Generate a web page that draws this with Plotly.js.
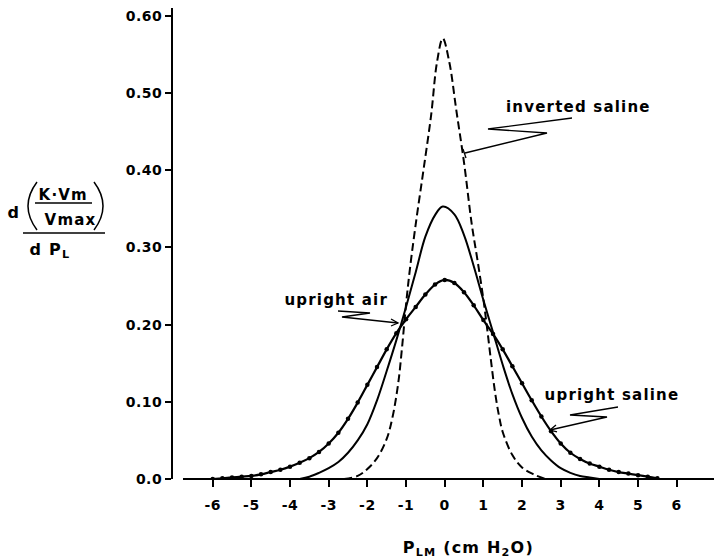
<!DOCTYPE html>
<html><head><meta charset="utf-8">
<script src="https://cdn.plot.ly/plotly-3.0.1.min.js"></script>
<style>html,body{margin:0;padding:0;background:#fff}</style>
</head><body><div id="chart" style="width:714px;height:559px"></div>
<script>
// ---- data ----
const xTickVals = [-6,-5,-4,-3,-2,-1,0,1,2,3,4,5,6];
const xTickText = ['-6','-5','-4','-3','-2','-1','0','1','2','3','4','5','6'];
const yTickVals = [0,0.1,0.2,0.3,0.4,0.5,0.6];
const yTickText = ['0.0','0.10','0.20','0.30','0.40','0.50','0.60'];

// upright saline (dotted line)
const salineX = [-6.0,-5.75,-5.5,-5.25,-5.0,-4.75,-4.5,-4.25,-4.0,-3.75,-3.5,-3.25,-3.0,-2.75,-2.5,-2.25,-2.0,-1.75,-1.5,-1.25,-1.0,-0.75,-0.5,-0.25,0.0,0.25,0.5,0.75,1.0,1.25,1.5,1.75,2.0,2.25,2.5,2.75,3.0,3.25,3.5,3.75,4.0,4.25,4.5,4.75,5.0,5.25,5.5];
const salineY = [0.000,0.001,0.002,0.003,0.004,0.006,0.009,0.012,0.016,0.021,0.027,0.035,0.046,0.060,0.078,0.099,0.122,0.145,0.168,0.189,0.207,0.223,0.239,0.252,0.258,0.254,0.242,0.225,0.206,0.188,0.168,0.146,0.124,0.102,0.081,0.062,0.046,0.034,0.026,0.020,0.016,0.012,0.009,0.007,0.005,0.003,0.001];

// upright air (solid line)
const airX = [-3.75,-3.5,-3.25,-3.0,-2.75,-2.5,-2.25,-2.0,-1.75,-1.5,-1.25,-1.0,-0.75,-0.5,-0.25,-0.05,0.25,0.5,0.75,1.0,1.25,1.5,1.75,2.0,2.25,2.5,2.75,3.0,3.25,3.5,3.75,4.0];
const airY = [0.000,0.003,0.008,0.014,0.022,0.034,0.050,0.071,0.102,0.140,0.180,0.223,0.268,0.314,0.342,0.353,0.343,0.316,0.276,0.232,0.190,0.148,0.110,0.079,0.055,0.037,0.024,0.014,0.008,0.004,0.002,0.000];

// inverted saline (dashed line)
const invX = [-2.6,-2.25,-2.0,-1.75,-1.5,-1.35,-1.2,-1.1,-1.0,-0.9,-0.75,-0.55,-0.35,-0.2,-0.05,0.12,0.3,0.5,0.7,0.85,1.0,1.1,1.2,1.3,1.4,1.5,1.75,2.0,2.3,2.6];
const invY = [0.000,0.004,0.013,0.027,0.052,0.080,0.125,0.172,0.226,0.272,0.330,0.400,0.472,0.540,0.571,0.540,0.478,0.410,0.330,0.283,0.233,0.194,0.152,0.113,0.083,0.061,0.031,0.015,0.006,0.000];

const seriesNames = ['upright saline','upright air','inverted saline'];

// ---- layout helpers (pixel -> paper) ----
const L = 173, T = 8, W = 541, H = 471;
const PX = x => (x - L) / W;
const PY = y => (T + H - y) / H;
const path = pts => pts.map((p, i) => (i ? 'L' : 'M') + PX(p[0]).toFixed(5) + ',' + PY(p[1]).toFixed(5)).join(' ');
const FONT = {family: 'DejaVu Sans', size: 14, color: '#000', weight: 'bold'};

const traces = [
  {x: salineX, y: salineY, name: seriesNames[0], type: 'scatter', mode: 'lines+markers',
   line: {color: '#000', width: 2.2, shape: 'spline', smoothing: 1}, marker: {color: '#000', size: 4.5}},
  {x: airX, y: airY, name: seriesNames[1], type: 'scatter', mode: 'lines',
   line: {color: '#000', width: 2, shape: 'spline', smoothing: 1}},
  {x: invX, y: invY, name: seriesNames[2], type: 'scatter', mode: 'lines',
   line: {color: '#000', width: 2, dash: '8px,4px', shape: 'spline', smoothing: 1}}
];

const line = (pts, w) => ({type: 'path', xref: 'paper', yref: 'paper', path: path(pts), line: {color: '#000', width: w || 1.3}});
const shapes = [
  line([[183, 479], [714, 479]], 2),
  line([[572,118],[488,129],[547,133],[465,153]]),
  line([[463,149],[466,158]]),
  line([[338,311],[370,313],[342,317],[398,323]]),
  line([[391,319],[398,323],[391,326]]),
  line([[618,407],[570,415],[607,417],[550,430]]),
  line([[556,425],[550,430],[557,432]]),
  line([[35,203],[92,203]], 1.5),
  line([[23,233],[105,233]], 1.5),
  {type: 'path', xref: 'paper', yref: 'paper', line: {color: '#000', width: 1.5},
   path: 'M' + PX(37) + ',' + PY(182) + ' Q' + PX(19) + ',' + PY(206) + ' ' + PX(37) + ',' + PY(230)},
  {type: 'path', xref: 'paper', yref: 'paper', line: {color: '#000', width: 1.5},
   path: 'M' + PX(94) + ',' + PY(182) + ' Q' + PX(112) + ',' + PY(206) + ' ' + PX(94) + ',' + PY(230)}
];

const ann = (text, x, y, size) => ({text: text, x: PX(x), y: PY(y), xref: 'paper', yref: 'paper',
  showarrow: false, xanchor: 'center', yanchor: 'middle', font: Object.assign({}, FONT, {size: size || 15})});
const annotations = [
  ann(seriesNames[2], 578, 107),
  ann(seriesNames[1], 336, 300),
  ann(seriesNames[0], 612, 395),
  ann('d', 13, 212, 16),
  ann('K·Vm', 63, 195, 15),
  ann('Vmax', 70, 220, 15),
  ann('d P<sub>L</sub>', 50, 250, 16),
  ann('P<sub>LM</sub> (cm H<sub>2</sub>O)', 468, 548, 16)
];

const layout = {
  width: 714, height: 559, autosize: false,
  margin: {l: L, r: 0, t: T, b: 559 - T - H, pad: 0},
  paper_bgcolor: '#fff', plot_bgcolor: '#fff',
  showlegend: false,
  xaxis: {range: [(L - 444.7) / 38.67, (714 - 444.7) / 38.67], tickvals: xTickVals, ticktext: xTickText,
    ticks: 'outside', ticklen: 7, tickwidth: 2, tickcolor: '#000', showline: false, showgrid: false, zeroline: false,
    tickfont: FONT, ticklabelstandoff: 6, fixedrange: true},
  yaxis: {range: [0, H / 771.7], tickvals: yTickVals, ticktext: yTickText,
    ticks: 'outside', ticklen: 6, tickwidth: 2, tickcolor: '#000', showline: true, linewidth: 2, linecolor: '#000',
    showgrid: false, zeroline: false, tickfont: FONT, fixedrange: true},
  shapes: shapes,
  annotations: annotations
};

Plotly.newPlot('chart', traces, layout, {staticPlot: true, displayModeBar: false}).then(() => {
  document.querySelectorAll('.annotation-text').forEach(t => { t.style.letterSpacing = '1.2px'; });
  document.querySelectorAll('.xtick text, .ytick text').forEach(t => { t.style.letterSpacing = '0.5px'; });
});
</script></body></html>
